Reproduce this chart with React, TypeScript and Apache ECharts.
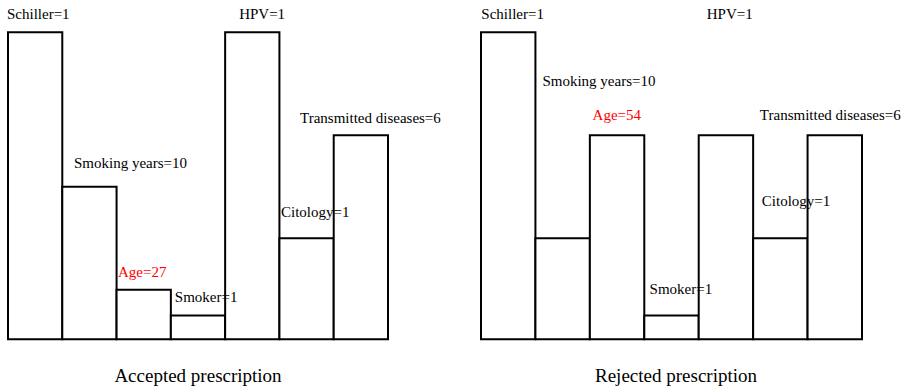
import React, { useEffect, useRef } from "react";
import * as echarts from "echarts";

const categories = ["Schiller", "Smoking years", "Age", "Smoker", "HPV", "Citology", "Transmitted diseases"];
const acceptedHeights = [12, 6, 2, 1, 12, 4, 8];
const acceptedValues = [1, 10, 27, 1, 1, 1, 6];
const rejectedHeights = [12, 4, 8, 1, 8, 4, 8];
const rejectedValues = [1, 10, 54, 1, 1, 1, 6];
const highlightedCategory = "Age";
const panelTitles = ["Accepted prescription", "Rejected prescription"];

// label placement relative to each bar's top-left corner (layout, not data)
const acceptedLabelPos = [[0, -17], [12.7, -22.5], [2.4, -17.3], [5, -18], [15, -17], [2.6, -25], [-32.7, -16]];
const rejectedLabelPos = [[1.3, -17], [8, -156], [3.7, -19], [6.3, -25.7], [9, -120], [9.7, -36], [-46.7, -19]];

const FONT = "'Liberation Serif', 'Times New Roman', serif";
const BORDER = 2;

function buildSeries(heights: number[], values: number[], pos: number[][], idx: number, gridWidth: number) {
  const band = gridWidth / categories.length;
  return {
    type: "bar",
    xAxisIndex: idx,
    yAxisIndex: idx,
    barWidth: band + BORDER,
    itemStyle: { color: "#ffffff", borderColor: "#000000", borderWidth: BORDER },
    label: {
      show: true,
      fontFamily: FONT,
      fontSize: 15,
      align: "left",
      verticalAlign: "middle",
    },
    data: heights.map((h, i) => ({
      value: h,
      label: {
        show: true,
        position: pos[i],
        formatter: `${categories[i]}=${values[i]}`,
        fontFamily: FONT,
        fontSize: 15,
        align: "left",
        verticalAlign: "middle",
        color: categories[i] === highlightedCategory ? "#ff0000" : "#000000",
      },
    })),
  };
}

export default function App() {
  const ref = useRef<HTMLDivElement>(null);
  useEffect(() => {
    if (!ref.current) return;
    const chart = echarts.init(ref.current, null, { renderer: "svg" });
    const grids = [
      { left: 8, top: 31.3, width: 380, height: 309 },
      { left: 481, top: 31.3, width: 381, height: 309 },
    ];
    chart.setOption({
      animation: false,
      backgroundColor: "#ffffff",
      textStyle: { fontFamily: FONT },
      grid: grids,
      xAxis: grids.map((_, i) => ({ type: "category", gridIndex: i, data: categories, show: false })),
      yAxis: grids.map((_, i) => ({ type: "value", gridIndex: i, min: 0, max: 12, show: false })),
      series: [
        buildSeries(acceptedHeights, acceptedValues, acceptedLabelPos, 0, grids[0].width),
        buildSeries(rejectedHeights, rejectedValues, rejectedLabelPos, 1, grids[1].width),
      ],
      graphic: panelTitles.map((t, i) => ({
        type: "text",
        x: i === 0 ? 198 : 676,
        y: 375,
        style: {
          text: t,
          fontFamily: FONT,
          fontSize: 19,
          fill: "#000000",
          textAlign: "center",
          textVerticalAlign: "middle",
        },
      })),
    });
    return () => chart.dispose();
  }, []);
  return <div ref={ref} style={{ position: "fixed", left: 0, top: 0, width: 909, height: 387 }} />;
}
